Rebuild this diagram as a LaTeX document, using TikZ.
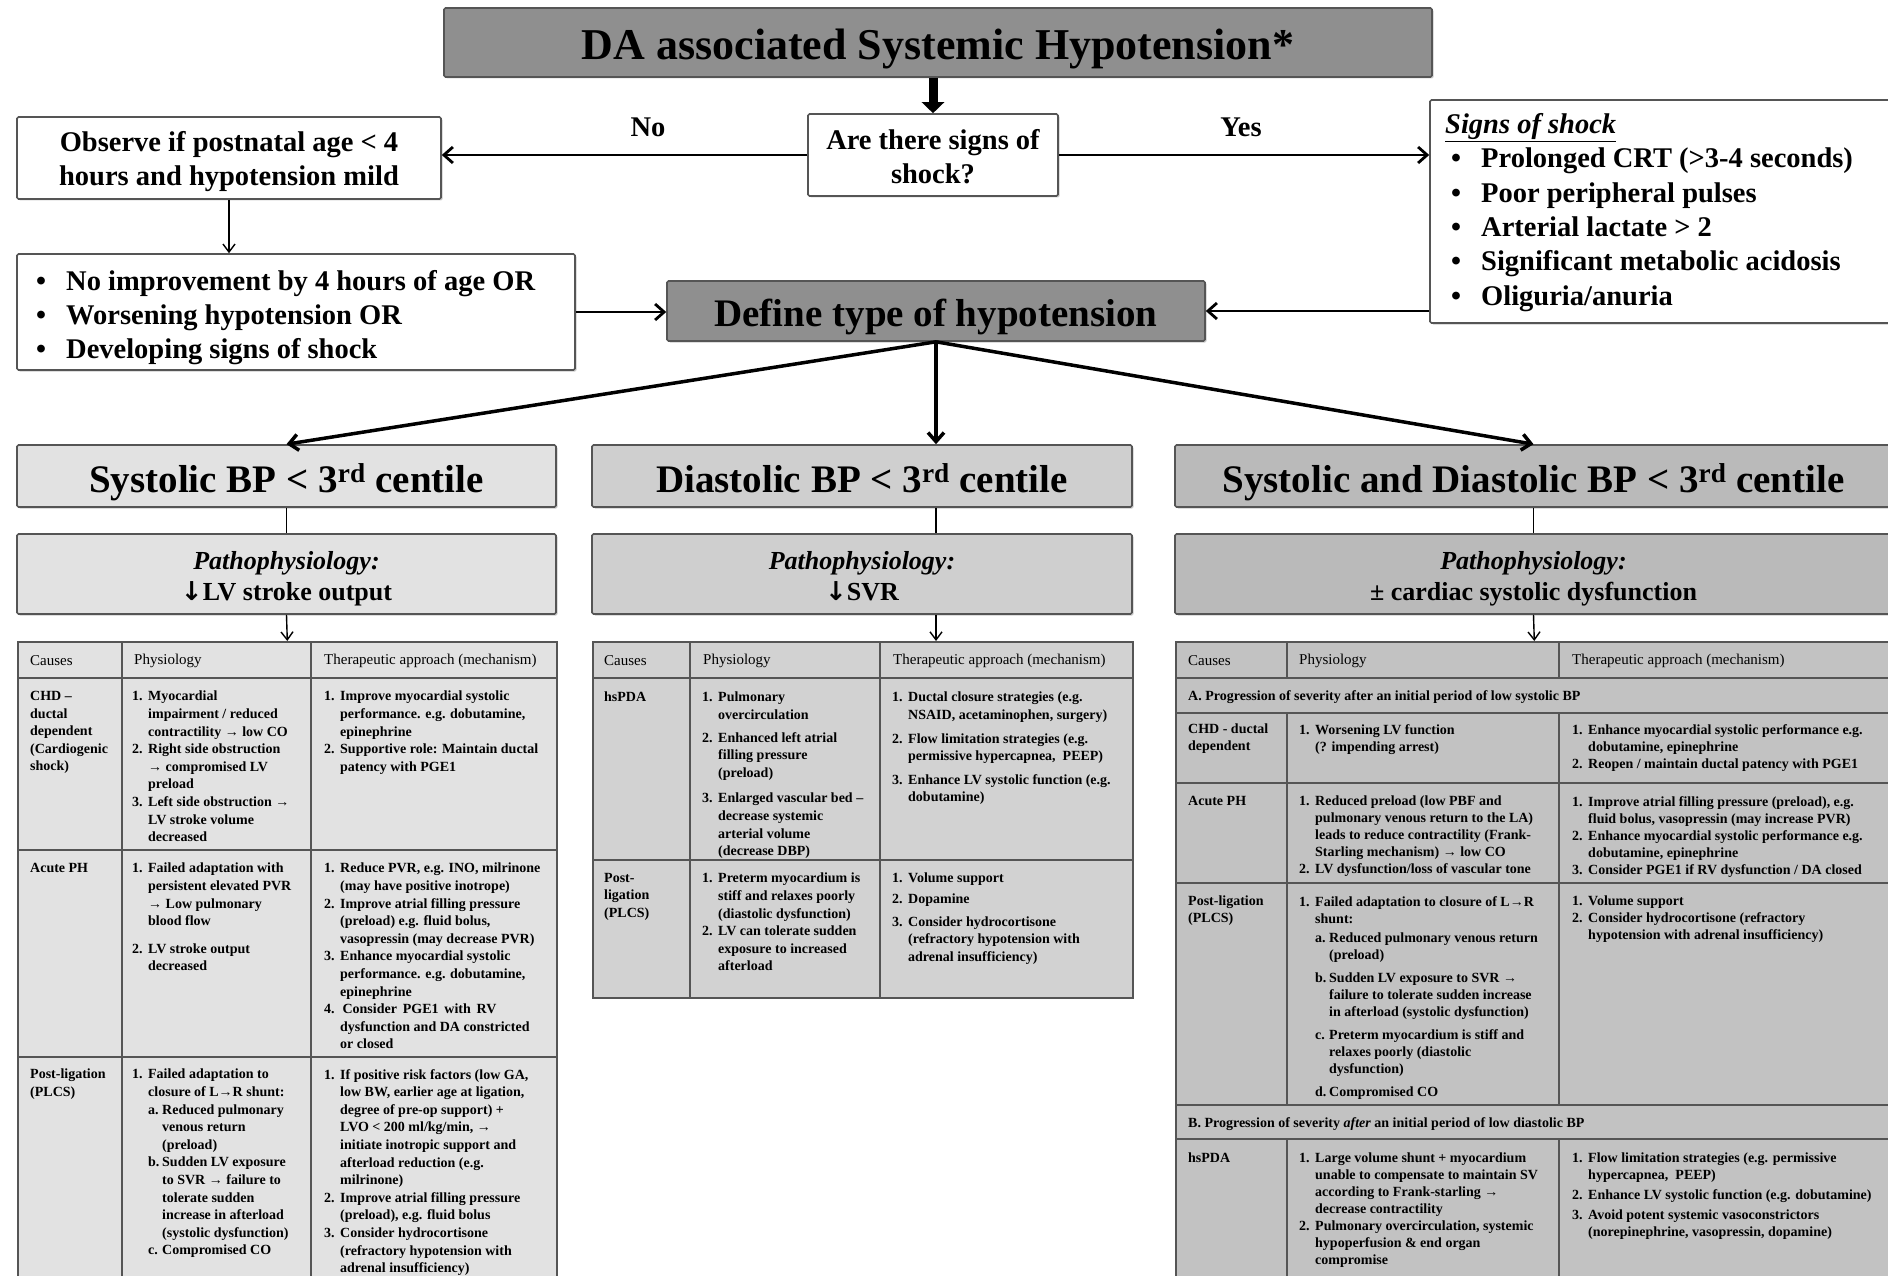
\documentclass[tikz,border=0pt]{standalone}
\usepackage{fontspec}
\setmainfont{Liberation Serif}
\newfontfamily\djv{DejaVu Sans}
\usetikzlibrary{arrows.meta,shadows}
\definecolor{gDark}{RGB}{143,143,143}
\definecolor{gL}{RGB}{226,226,226}
\definecolor{gM}{RGB}{207,207,207}
\definecolor{gR}{RGB}{186,186,186}
\definecolor{tL}{RGB}{226,226,226}
\definecolor{tM}{RGB}{210,210,210}
\definecolor{tR}{RGB}{194,194,194}
\definecolor{edge}{RGB}{85,85,85}
\newcommand\nmb[1]{\makebox[16pt][l]{#1}}
\newcommand\cnt{\hspace*{16pt}}
\newcommand\sbn[1]{\hspace*{16pt}\makebox[14pt][l]{#1}}
\newcommand\scnt{\hspace*{30pt}}
\newcommand\bul{\makebox[30pt][l]{•}}
\tikzset{
  box/.style={draw=edge, line width=1.6pt, inner sep=0pt, rounded corners=1.5pt,
    drop shadow={shadow xshift=1.5pt, shadow yshift=-1.5pt, fill=black!40, opacity=0.5}},
  fbig/.style={font=\fontsize{39}{46}\selectfont\bfseries},
  fmid/.style={font=\fontsize{28.5}{34}\selectfont\bfseries},
  fpat/.style={font=\fontsize{26}{31}\selectfont\bfseries},
  arr/.style={line width=2.8pt, -{Straight Barb[length=9pt,width=16pt]}},
  link/.style={line width=1.4pt},
  linkarr/.style={line width=1.4pt, -{Straight Barb[length=8pt,width=12pt]}},
  tx/.style={anchor=north west, inner sep=0pt, align=left, font=\fontsize{14}{17.6}\selectfont\bfseries},
  txr/.style={anchor=north west, inner sep=0pt, align=left, font=\fontsize{14}{17}\selectfont\bfseries},
  hd/.style={anchor=west, inner sep=0pt, font=\fontsize{15}{17}\selectfont},
  tabbox/.style={draw=edge, line width=1.6pt, inner sep=0pt, anchor=north west},
  tline/.style={draw=edge, line width=1.6pt},
  bl/.style={anchor=base, inner sep=0pt},
}
\begin{document}
\begin{tikzpicture}[x=1pt,y=-1pt]
\useasboundingbox (0,0) rectangle (1888,1276);
\clip (0,0) rectangle (1888,1276);
\fill[white] (0,0) rectangle (1888,1276);

% ---------- top part ----------
\node[box, fill=gDark, minimum width=988, minimum height=69] (title) at (938,42.5) {};
\node[bl, font=\fontsize{44}{52}\selectfont\bfseries] (titleT) at (938,60) {DA associated Systemic Hypotension*};
\node[box, fill=white, minimum width=250, minimum height=82] (shock) at (933,155) {};
\node[bl, fmid] (shockT1) at (933,149.5) {Are there signs of};
\node[bl, fmid] (shockT2) at (933,183.5) {shock?};
\node[box, fill=white, minimum width=424, minimum height=82] (observe) at (229,158) {};
\node[bl, fmid] (observeT1) at (229,151.5) {Observe if postnatal age < 4};
\node[bl, fmid] (observeT2) at (229,185.5) {hours and hypotension mild};
\node[box, fill=white, minimum width=470, minimum height=223] (signs) at (1665,211.5) {};
\node[anchor=north west, inner sep=0pt, align=left, font=\fontsize{28.5}{34.4}\selectfont\bfseries] (signsT) at (1445,113) {\underline{\textit{Signs of shock}}\\
\hspace*{6pt}\bul Prolonged CRT (>3-4 seconds)\\
\hspace*{6pt}\bul Poor peripheral pulses\\
\hspace*{6pt}\bul Arterial lactate > 2\\
\hspace*{6pt}\bul Significant metabolic acidosis\\
\hspace*{6pt}\bul Oliguria/anuria};
\node[box, fill=white, minimum width=558, minimum height=116] (noimp) at (296,312) {};
\node[anchor=north west, inner sep=0pt, align=left, fmid] (noimpT) at (36,270.5) {\bul No improvement by 4 hours of age OR\\
\bul Worsening hypotension OR\\
\bul Developing signs of shock};
\node[box, fill=gDark, minimum width=538, minimum height=60] (define) at (936,311) {};
\node[bl, fbig] (defineT) at (936,326) {Define type of hypotension};
\node[fmid] (lblNo) at (648,127) {No};
\node[fmid] (lblYes) at (1241,127) {Yes};

% ---------- categories ----------
\node[box, fill=gL, minimum width=539, minimum height=62] (catL) at (286.5,476) {};
\node[bl, fbig] (catLT) at (286.5,492) {Systolic BP < 3\textsuperscript{rd} centile};
\node[box, fill=gM, minimum width=540, minimum height=62] (catM) at (862,476) {};
\node[bl, fbig] (catMT) at (862,492) {Diastolic BP < 3\textsuperscript{rd} centile};
\node[box, fill=gR, minimum width=717, minimum height=62] (catR) at (1533.5,476) {};
\node[bl, fbig] (catRT) at (1533.5,492) {Systolic and Diastolic BP < 3\textsuperscript{rd} centile};

\node[box, fill=gL, minimum width=539, minimum height=80] (pathoL) at (286.5,574) {};
\node[bl, fpat] (pathoLT1) at (286.5,569) {\textit{Pathophysiology:}};
\node[bl, fpat] (pathoLT2) at (286.5,600) {{\djv ↓}LV stroke output};
\node[box, fill=gM, minimum width=540, minimum height=80] (pathoM) at (862,574) {};
\node[bl, fpat] (pathoMT1) at (862,569) {\textit{Pathophysiology:}};
\node[bl, fpat] (pathoMT2) at (862,600) {{\djv ↓}SVR};
\node[box, fill=gR, minimum width=717, minimum height=80] (pathoR) at (1533.5,574) {};
\node[bl, fpat] (pathoRT1) at (1533.5,569) {\textit{Pathophysiology:}};
\node[bl, fpat] (pathoRT2) at (1533.5,600) {± cardiac systolic dysfunction};

% ---------- tables ----------
\node[tabbox, fill=tL, minimum width=539, minimum height=660] (tabL) at (17,641) {};
\node[tabbox, fill=tM, minimum width=540, minimum height=356] (tabM) at (592,641) {};
\node[tabbox, fill=tR, minimum width=717, minimum height=660] (tabR) at (1175,641) {};

% left table grid
\draw[tline] (122,641) -- (122,1300) (311,641) -- (311,1300);
\draw[tline] (17,678) -- (556,678) (17,850) -- (556,850) (17,1057) -- (556,1057);
% middle table grid
\draw[tline] (690,641) -- (690,997) (880,641) -- (880,997);
\draw[tline] (592,678) -- (1132,678) (592,860) -- (1132,860);
% right table grid
\draw[tline] (1287,641) -- (1287,678) (1559,641) -- (1559,678);
\draw[tline] (1287,713) -- (1287,1105) (1559,713) -- (1559,1105);
\draw[tline] (1287,1139) -- (1287,1300) (1559,1139) -- (1559,1300);
\draw[tline] (1175,678) -- (1892,678) (1175,713) -- (1892,713) (1175,783) -- (1892,783)
  (1175,883) -- (1892,883) (1175,1105) -- (1892,1105) (1175,1139) -- (1892,1139);

% left table text
\node[hd] (hL1) at (30,661) {Causes};
\node[hd] (hL2) at (134,661) {Physiology};
\node[hd] (hL3) at (324,661) {Therapeutic approach (mechanism)};
\node[tx] (l11) at (30,691) {CHD –\\ductal\\dependent\\(Cardiogenic\\shock)};
\node[tx] (l12) at (132,691) {\nmb{1.}Myocardial\\\cnt impairment / reduced\\\cnt contractility → low CO\\\nmb{2.}Right side obstruction\\\cnt → compromised LV\\\cnt preload\\\nmb{3.}Left side obstruction →\\\cnt LV stroke volume\\\cnt decreased};
\node[tx] (l13) at (324,691) {\nmb{1.}Improve myocardial systolic\\\cnt performance. e.g. dobutamine,\\\cnt epinephrine\\\nmb{2.}Supportive role: Maintain ductal\\\cnt patency with PGE1};
\node[tx] (l21) at (30,863) {Acute PH};
\node[tx] (l22) at (132,863) {\nmb{1.}Failed adaptation with\\\cnt persistent elevated PVR\\\cnt → Low pulmonary\\\cnt blood flow\\[10pt]\nmb{2.}LV stroke output\\\cnt decreased};
\node[tx] (l23) at (324,863) {\nmb{1.}Reduce PVR, e.g. INO, milrinone\\\cnt (may have positive inotrope)\\\nmb{2.}Improve atrial filling pressure\\\cnt (preload) e.g. fluid bolus,\\\cnt vasopressin (may decrease PVR)\\\nmb{3.}Enhance myocardial systolic\\\cnt performance. e.g. dobutamine,\\\cnt epinephrine\\\nmb{4.}\,Consider\,\ PGE1\,\ with\,\ RV\\\cnt dysfunction and DA constricted\\\cnt or closed};
\node[tx] (l31) at (30,1069) {Post-ligation\\(PLCS)};
\node[tx] (l32) at (132,1069) {\nmb{1.}Failed adaptation to\\\cnt closure of L→R shunt:\\\sbn{a.}Reduced pulmonary\\\scnt venous return\\\scnt (preload)\\\sbn{b.}Sudden LV exposure\\\scnt to SVR → failure to\\\scnt tolerate sudden\\\scnt increase in afterload\\\scnt (systolic dysfunction)\\\sbn{c.}Compromised CO};
\node[tx] (l33) at (324,1069) {\nmb{1.}If positive risk factors (low GA,\\\cnt low BW, earlier age at ligation,\\\cnt degree of pre-op support) +\\\cnt LVO < 200 ml/kg/min, →\\\cnt initiate inotropic support and\\\cnt afterload reduction (e.g.\\\cnt milrinone)\\\nmb{2.}Improve atrial filling pressure\\\cnt (preload), e.g. fluid bolus\\\nmb{3.}Consider hydrocortisone\\\cnt (refractory hypotension with\\\cnt adrenal insufficiency)};

% middle table text
\node[hd] (hM1) at (604,661) {Causes};
\node[hd] (hM2) at (703,661) {Physiology};
\node[hd] (hM3) at (893,661) {Therapeutic approach (mechanism)};
\node[tx] (m11) at (604,692) {hsPDA};
\node[tx] (m12) at (702,692) {\nmb{1.}Pulmonary\\\cnt overcirculation\\[5pt]\nmb{2.}Enhanced left atrial\\\cnt filling pressure\\\cnt (preload)\\[8pt]\nmb{3.}Enlarged vascular bed –\\\cnt decrease systemic\\\cnt arterial volume\\\cnt (decrease DBP)};
\node[tx] (m13) at (892,692) {\nmb{1.}Ductal closure strategies (e.g.\\\cnt NSAID, acetaminophen, surgery)\\[6pt]\nmb{2.}Flow limitation strategies (e.g.\\\cnt permissive hypercapnea,\ \ PEEP)\\[6pt]\nmb{3.}Enhance LV systolic function (e.g.\\\cnt dobutamine)};
\node[tx] (m21) at (604,873) {Post-\\ligation\\(PLCS)};
\node[tx] (m22) at (702,873) {\nmb{1.}Preterm myocardium is\\\cnt stiff and relaxes poorly\\\cnt (diastolic dysfunction)\\\nmb{2.}LV can tolerate sudden\\\cnt exposure to increased\\\cnt afterload};
\node[tx] (m23) at (892,873) {\nmb{1.}Volume support\\[3pt]\nmb{2.}Dopamine\\[5pt]\nmb{3.}Consider hydrocortisone\\\cnt (refractory hypotension with\\\cnt adrenal insufficiency)};

% right table text
\node[hd] (hR1) at (1188,661) {Causes};
\node[hd] (hR2) at (1299,661) {Physiology};
\node[hd] (hR3) at (1572,661) {Therapeutic approach (mechanism)};
\node[txr] (rA) at (1188,690) {A. Progression of severity after an initial period of low systolic BP};
\node[txr] (r11) at (1188,724) {CHD - ductal\\dependent};
\node[txr] (r12) at (1299,724) {\nmb{1.}Worsening LV function\\\cnt (? impending arrest)};
\node[txr] (r13) at (1572,724) {\nmb{1.}Enhance myocardial systolic performance e.g.\\\cnt dobutamine, epinephrine\\\nmb{2.}Reopen / maintain ductal patency with PGE1};
\node[txr] (r21) at (1188,796) {Acute PH};
\node[txr] (r22) at (1299,796) {\nmb{1.}Reduced preload (low PBF and\\\cnt pulmonary venous return to the LA)\\\cnt leads to reduce contractility (Frank-\\\cnt Starling mechanism) → low CO\\\nmb{2.}LV dysfunction/loss of vascular tone};
\node[txr] (r23) at (1572,796) {\nmb{1.}Improve atrial filling pressure (preload), e.g.\\\cnt fluid bolus, vasopressin (may increase PVR)\\\nmb{2.}Enhance myocardial systolic performance e.g.\\\cnt dobutamine, epinephrine\\\nmb{3.}Consider PGE1 if RV dysfunction / DA closed};
\node[txr] (r31) at (1188,896) {Post-ligation\\(PLCS)};
\node[txr] (r32) at (1299,896) {\nmb{1.}Failed adaptation to closure of L→R\\\cnt shunt:\\[2pt]\sbn{a.}Reduced pulmonary venous return\\\scnt (preload)\\[6pt]\sbn{b.}Sudden LV exposure to SVR →\\\scnt failure to tolerate sudden increase\\\scnt in afterload (systolic dysfunction)\\[6pt]\sbn{c.}Preterm myocardium is stiff and\\\scnt relaxes poorly (diastolic\\\scnt dysfunction)\\[6pt]\sbn{d.}Compromised CO};
\node[txr] (r33) at (1572,896) {\nmb{1.}Volume support\\\nmb{2.}Consider hydrocortisone (refractory\\\cnt hypotension with adrenal insufficiency)};
\node[txr] (rB) at (1188,1117) {B. Progression of severity \emph{after} an initial period of low diastolic BP};
\node[txr] (r41) at (1188,1153) {hsPDA};
\node[txr] (r42) at (1299,1153) {\nmb{1.}Large volume shunt + myocardium\\\cnt unable to compensate to maintain SV\\\cnt according to Frank-starling →\\\cnt decrease contractility\\\nmb{2.}Pulmonary overcirculation, systemic\\\cnt hypoperfusion \& end organ\\\cnt compromise};
\node[txr] (r43) at (1572,1153) {\nmb{1.}Flow limitation strategies (e.g. permissive\\\cnt hypercapnea,\ \ PEEP)\\[3pt]\nmb{2.}Enhance LV systolic function (e.g. dobutamine)\\[3pt]\nmb{3.}Avoid potent systemic vasoconstrictors\\\cnt (norepinephrine, vasopressin, dopamine)};

% ---------- connectors ----------
\draw[line width=9pt, -{Triangle[length=11pt,width=22pt]}] (title.south -| shock.north) -- (shock.north);
\draw[arr] (shock.west) -- (shock.west -| observe.east);
\draw[arr] (shock.east) -- (shock.east -| signs.west);
\draw[linkarr] (observe.south) -- (observe.south |- noimp.north);
\draw[arr] (noimp.east) -- (noimp.east -| define.west);
\draw[arr] (define.east -| signs.west) -- (define.east);
\draw[arr, line width=3.5pt] (define.south) -- (catL.north);
\draw[arr, line width=3.5pt] (define.south) -- (define.south |- catM.north);
\draw[arr, line width=3.5pt] (define.south) -- (catR.north);
\draw[link] (catL.south) -- (pathoL.north);
\draw[linkarr] (pathoL.south) -- (tabL.north);
\draw[link] (catM.south -| define.south) -- (pathoM.north -| define.south);
\draw[linkarr] (pathoM.south -| define.south) -- (tabM.north -| define.south);
\draw[link] (catR.south) -- (pathoR.north);
\draw[linkarr] (pathoR.south) -- (tabR.north);
\end{tikzpicture}
\end{document}
